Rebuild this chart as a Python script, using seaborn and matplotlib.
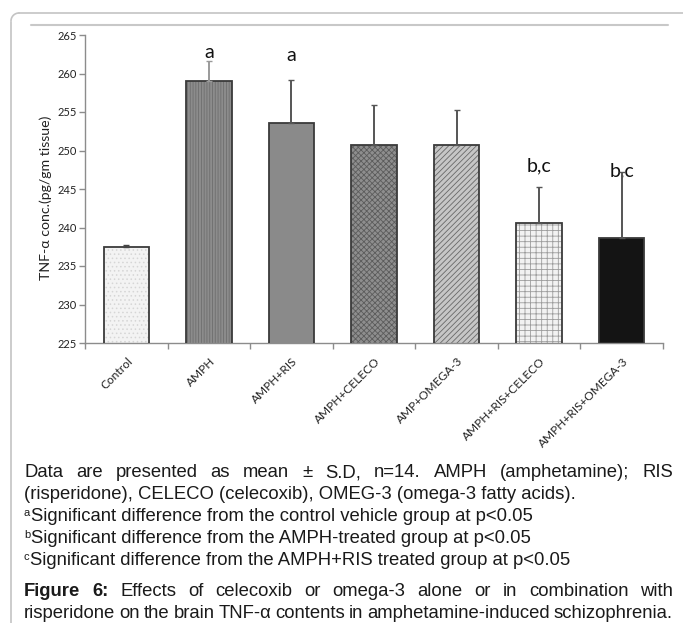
import matplotlib
matplotlib.use('Agg')
import numpy as np
import pandas as pd
import matplotlib.pyplot as plt
import matplotlib.transforms as mtransforms
import seaborn as sns
from matplotlib.patches import Rectangle
from matplotlib.lines import Line2D

# data
groups = ['Control', 'AMPH', 'AMPH+RIS', 'AMPH+CELECO', 'AMP+OMEGA-3',
          'AMPH+RIS+CELECO', 'AMPH+RIS+OMEGA-3']
means = [237.5, 259.0, 253.6, 250.7, 250.7, 240.6, 238.7]
sds = [0.2, 2.6, 5.5, 5.2, 4.6, 4.7, 8.5]
sig_labels = ['', 'a', 'a', '', '', 'b,c', 'b,c']
sig_y = [None, 262.7, 262.4, None, None, 248.0, 247.4]
yticks = [225, 230, 235, 240, 245, 250, 255, 260, 265]

# bar styles
fills = ['#f3f3f3', '#8c8c8c', '#8a8a8a', '#8e8e8e', '#c6c6c6', '#f2f2f2', '#141414']
hatches = ['....', '||||||', '', 'xxxxxx', '//////', '+++', '']
hatch_cols = ['#d6d6d6', '#6e6e6e', '#8a8a8a', '#5c5c5c', '#686868', '#9c9c9c', '#141414']
err_cols = ['#444444', '#9a9a9a', '#555555', '#555555', '#555555', '#555555', '#555555']

sns.set_theme(style='white')
plt.rcParams['font.family'] = ['Lato', 'DejaVu Sans']
plt.rcParams['hatch.linewidth'] = 0.6

W, H = 683, 623
fig = plt.figure(figsize=(W / 100, H / 100), dpi=100)
fig.patch.set_facecolor('white')

# frame lines of the page
grey = '#c4c4c4'
fig.add_artist(Line2D([11 / W, 11 / W], [1 - 22 / H, 0], color=grey, lw=1.2))
fig.add_artist(Line2D([19 / W, 1], [1 - 13 / H, 1 - 13 / H], color=grey, lw=1.2))
corner = np.linspace(np.pi / 2, np.pi, 20)
fig.add_artist(Line2D((19 + 8 * np.cos(corner)) / W, 1 - (21 - 8 * np.sin(corner)) / H,
                      color=grey, lw=1.2))
fig.add_artist(Line2D([31 / W, 668 / W], [1 - 25 / H, 1 - 25 / H], color='#c8c8c8', lw=1.5))

ax = fig.add_axes([85 / W, 1 - 343 / H, (663 - 85) / W, (343 - 35) / H])
df = pd.DataFrame({'group': groups, 'mean': means})
sns.barplot(data=df, x='group', y='mean', hue='group', palette=fills, width=0.55,
            saturation=1, legend=False, ax=ax)

for p, fc, hc, hp in zip(ax.patches, fills, hatch_cols, hatches):
    p.set_facecolor(fc)
    p.set_edgecolor(hc)
    p.set_hatch(hp)
    p.set_linewidth(0)
    ax.add_patch(Rectangle((p.get_x(), p.get_y()), p.get_width(), p.get_height(),
                           fill=False, edgecolor='#3a3a3a', lw=1.3, zorder=3))

for i, (m, s) in enumerate(zip(means, sds)):
    ax.errorbar(i, m, yerr=[[0], [s]], fmt='none', ecolor=err_cols[i],
                elinewidth=1.4, capsize=2.5, capthick=1.0, zorder=4)

for i, lab in enumerate(sig_labels):
    if lab:
        ax.text(i, sig_y[i], lab, ha='center', va='center', fontsize=14, color='#111111')

ax.set_ylim(225, 265)
ax.set_xlim(-0.5, 6.5)
ax.set_yticks(yticks)
ax.set_yticklabels([str(t) for t in yticks], fontsize=8, color='#222222')
ax.set_xticks(range(len(groups)))
ax.set_xticklabels(groups, rotation=45, ha='right', rotation_mode='anchor',
                   fontsize=8.6, color='#222222')
ax.set_xticks(np.arange(-0.5, len(groups), 1), minor=True)
ax.tick_params(axis='x', which='major', length=0, pad=9)
ax.tick_params(axis='x', which='minor', length=4, width=1, color='#8c8c8c', direction='out', bottom=True)
ax.tick_params(axis='y', length=4, width=1, color='#8c8c8c', direction='out', left=True, pad=2)
offset = mtransforms.ScaledTranslation(0.5 / 100, 0, fig.dpi_scale_trans)
for lab in ax.get_xticklabels():
    lab.set_transform(lab.get_transform() + offset)

ax.set_xlabel('')
ax.set_ylabel('TNF-α conc.(pg/gm tissue)', fontsize=10.2, color='#222222')
ax.yaxis.set_label_coords((52 - 85) / (663 - 85), 0.47)
sns.despine(ax=ax)
for side in ['left', 'bottom']:
    ax.spines[side].set_color('#8c8c8c')
    ax.spines[side].set_linewidth(1)

# caption text below the chart
body = 'Liberation Sans'
fsize = 13.3
norm = dict(family=body, fontsize=fsize, color='#1a1a1a')
bold = dict(family=body, fontsize=fsize, color='#1a1a1a', weight='bold')
sup = dict(family=body, fontsize=8, color='#1a1a1a')

renderer = fig.canvas.get_renderer()


def text_width(s, kw):
    t = fig.text(0, 0, s, **kw)
    w = t.get_window_extent(renderer).width
    t.remove()
    return w


def put(s, kw, x, base_y):
    fig.text(x / W, 1 - base_y / H, s, ha='left', va='baseline', **kw)


def justify_line(segments, base_y, x0=24, x1=673):
    tokens = []
    for s, kw in segments:
        tokens += [(w, kw) for w in s.split(' ') if w]
    widths = [text_width(w, kw) for w, kw in tokens]
    gap = max((x1 - x0 - sum(widths)) / (len(tokens) - 1), 1.5)
    x = x0
    for (w, kw), wd in zip(tokens, widths):
        put(w, kw, x, base_y)
        x += wd + gap


def sup_line(letter, s, base_y, x0=24):
    fig.text(x0 / W, 1 - (base_y - 5) / H, letter, ha='left', va='baseline', **sup)
    put(s, norm, x0 + text_width(letter, sup) + 0.5, base_y)


justify_line([('Data are presented as mean ± S.D, n=14. AMPH (amphetamine); RIS', norm)], 477)
put('(risperidone), CELECO (celecoxib), OMEG-3 (omega-3 fatty acids).', norm, 24, 499)
sup_line('a', 'Significant difference from the control vehicle group at p<0.05', 521)
sup_line('b', 'Significant difference from the AMPH-treated group at p<0.05', 543)
sup_line('c', 'Significant difference from the AMPH+RIS treated group at p<0.05', 565)
justify_line([('Figure 6:', bold),
              ('Effects of celecoxib or omega-3 alone or in combination with', norm)], 596)
justify_line([('risperidone on the brain TNF-α contents in amphetamine-induced schizophrenia.', norm)], 618)

fig.savefig('out.png', dpi=100, facecolor='white')
